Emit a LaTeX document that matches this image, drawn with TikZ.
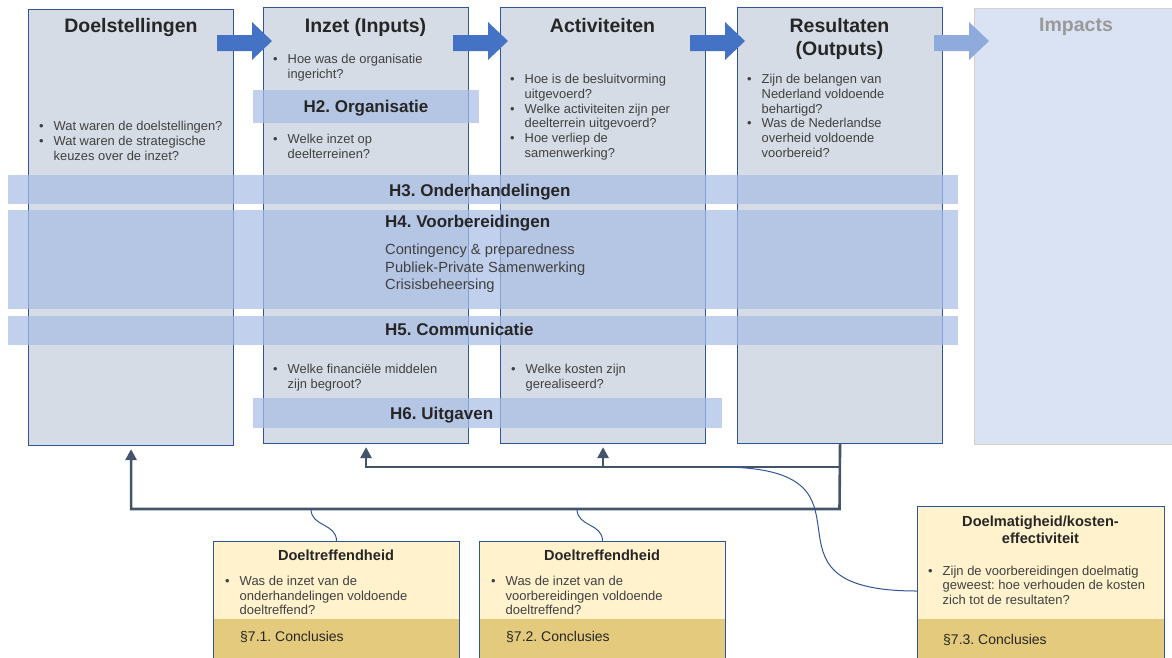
\documentclass[tikz,border=0pt]{standalone}
\usepackage{fontspec}
\setmainfont{Liberation Sans}
\usetikzlibrary{arrows.meta}
\frenchspacing
\definecolor{colfill}{HTML}{D6DCE5}
\definecolor{colline}{HTML}{2F5597}
\definecolor{bandfill}{HTML}{A9BEE6}
\definecolor{flowblue}{HTML}{4472C4}
\definecolor{flowlight}{HTML}{8FAADC}
\definecolor{impactfill}{HTML}{DAE3F3}
\definecolor{impactline}{HTML}{D5CFC8}
\definecolor{connline}{HTML}{44546A}
\definecolor{noteyellow}{HTML}{FFF2CC}
\definecolor{notegold}{HTML}{E4CA7C}
\definecolor{textdark}{HTML}{262626}
\definecolor{textgrey}{HTML}{404040}
\newcommand{\bul}{\makebox[14.5pt][l]{\textbullet}}
\newcommand{\bsp}{\hspace*{14.5pt}}

\begin{document}
\begin{tikzpicture}[x=1pt,y=-1pt,
    col/.style={draw=colline,fill=colfill,line width=1.1pt,anchor=north west,inner sep=0pt,
      minimum width=205pt,minimum height=436pt},
    band/.style={fill=bandfill,fill opacity=0.72,anchor=north west,inner sep=0pt},
    coltitle/.style={font=\fontsize{19.5}{23}\selectfont\bfseries,text=textdark,anchor=north,align=center,inner sep=0pt},
    bandtitle/.style={font=\fontsize{17}{20}\selectfont\bfseries,text=textdark,anchor=base west,inner sep=0pt},
    qlist/.style={font=\fontsize{12.9}{14.8}\selectfont,text=textgrey,anchor=north west,align=left,inner sep=0pt},
    note/.style={draw=colline,fill=noteyellow,line width=1pt,anchor=north west,inner sep=0pt,minimum width=246pt,minimum height=130pt},
    notebar/.style={fill=notegold,anchor=north,inner sep=0pt,minimum width=245pt,minimum height=50pt},
    notetitle/.style={font=\fontsize{14.6}{16.3}\selectfont\bfseries,text=textdark,anchor=north,align=center,inner sep=0pt},
    notelist/.style={font=\fontsize{13}{14.7}\selectfont,text=textgrey,anchor=north west,align=left,inner sep=0pt},
    concl/.style={font=\fontsize{14}{16}\selectfont,text=textdark,anchor=base west,inner sep=0pt},
    conn/.style={draw=connline,line width=2.6pt,shorten >=3pt,-{Triangle[width=11pt,length=11pt]}},
    link/.style={draw=colline,line width=1pt}]
  \useasboundingbox (0,0) rectangle (1172,657);
  \clip (0,0) rectangle (1172,657);

  % columns of the chain
  \node[col] (doel) at (28,9) {};
  \node[col] (inzet) at (263,7) {};
  \node[col] (activ) at (500,7) {};
  \node[col] (result) at (737,7) {};
  \node[col,draw=impactline,fill=impactfill,minimum width=205pt] (impact) at (974,8) {};

  \foreach \x/\c in {217/flowblue,453/flowblue,690/flowblue,934/flowlight}
    \fill[\c] (\x,35) -- (\x+35,35) -- (\x+35,22) -- (\x+55,41) -- (\x+35,60) -- (\x+35,51) -- (\x,51) -- cycle;

  \node[coltitle] (doelT) at (131,18) {Doelstellingen};
  \node[coltitle] (inzetT) at (365.5,18) {Inzet (Inputs)};
  \node[coltitle] (activT) at (602.5,18) {Activiteiten};
  \node[coltitle] (resultT) at (839.5,18) {Resultaten\\(Outputs)};
  \node[coltitle,text=black!40] (impactT) at (1076,18) {Impacts};

  \node[qlist] (doelQ) at (39,121.3) {\bul Wat waren de doelstellingen?\\\bul Wat waren de strategische\\\bsp keuzes over de inzet?};
  \node[qlist] (inzetQa) at (273,53.8) {\bul Hoe was de organisatie\\\bsp ingericht?};
  \node[qlist] (inzetQb) at (273,133.8) {\bul Welke inzet op\\\bsp deelterreinen?};
  \node[qlist] (inzetQc) at (273,364) {\bul Welke financi\"ele middelen\\\bsp zijn begroot?};
  \node[qlist] (activQa) at (510,74) {\bul Hoe is de besluitvorming\\\bsp uitgevoerd?\\\bul Welke activiteiten zijn per\\\bsp deelterrein uitgevoerd?\\\bul Hoe verliep de\\\bsp samenwerking?};
  \node[qlist] (activQb) at (511,364) {\bul Welke kosten zijn\\\bsp gerealiseerd?};
  \node[qlist] (resultQ) at (747,74) {\bul Zijn de belangen van\\\bsp Nederland voldoende\\\bsp behartigd?\\\bul Was de Nederlandse\\\bsp overheid voldoende\\\bsp voorbereid?};

  % chapters laid over the chain
  \node[band,minimum width=226pt,minimum height=33pt] (h2) at (253,90) {};
  \node[band,minimum width=950pt,minimum height=29pt] (h3) at (8,175) {};
  \node[band,minimum width=950pt,minimum height=99pt] (h4) at (8,210) {};
  \node[band,minimum width=950pt,minimum height=29pt] (h5) at (8,316) {};
  \node[band,minimum width=469pt,minimum height=30pt] (h6) at (253,398) {};

  \node[bandtitle,anchor=base] (h2T) at (366,112.5) {H2. Organisatie};
  \node[bandtitle] (h3T) at (389,196) {H3. Onderhandelingen};
  \node[bandtitle] (h4T) at (385,227.5) {H4. Voorbereidingen};
  \node[qlist,font=\fontsize{14.7}{17.3}\selectfont] (h4Q) at (385,244) {Contingency \& preparedness\\Publiek-Private Samenwerking\\Crisisbeheersing};
  \node[bandtitle] (h5T) at (385,335) {H5. Communicatie};
  \node[bandtitle] (h6T) at (390,419.5) {H6. Uitgaven};

  % feedback from the results
  \coordinate (up) at (839.5,467);
  \coordinate (down) at (839.5,509);
  \draw[conn] (result.south) -- (down) -| (doel.south);
  \draw[conn] (up) -| (inzet.south);
  \draw[conn] (activ.south |- up) -- (activ.south);

  % conclusions
  \node[note] (b1) at (213,541) {};
  \node[notebar] (b1bar) at ([yshift=-78pt]b1.north) {};
  \node[notetitle] (b1T) at (336,549.5) {Doeltreffendheid};
  \node[notelist] (b1Q) at (225,575.7) {\bul Was de inzet van de\\\bsp onderhandelingen voldoende\\\bsp doeltreffend?};
  \node[concl] (b1C) at (240,641.7) {\S7.1. Conclusies};

  \node[note] (b2) at (479,541) {};
  \node[notebar] (b2bar) at ([yshift=-78pt]b2.north) {};
  \node[notetitle] (b2T) at (602,549.5) {Doeltreffendheid};
  \node[notelist] (b2Q) at (491,575.7) {\bul Was de inzet van de\\\bsp voorbereidingen voldoende\\\bsp doeltreffend?};
  \node[concl] (b2C) at (506,641.7) {\S7.2. Conclusies};

  \node[note,minimum width=247pt,minimum height=170pt] (b3) at (917,506) {};
  \node[notebar,minimum width=246pt] (b3bar) at ([yshift=-113pt]b3.north) {};
  \node[notetitle] (b3T) at (1040.5,516) {Doelmatigheid/kosten-\\effectiviteit};
  \node[notelist] (b3Q) at (928,565.6) {\bul Zijn de voorbereidingen doelmatig\\\bsp geweest: hoe verhouden de kosten\\\bsp zich tot de resultaten?};
  \node[concl] (b3C) at (943,644) {\S7.3. Conclusies};

  \coordinate (j1) at (311,509);
  \coordinate (j2) at (577,509);
  \coordinate (j3) at (720,467);
  \draw[link] (b1.north) .. controls +(0,-18) and +(0,18) .. (j1);
  \draw[link] (b2.north) .. controls +(0,-18) and +(0,18) .. (j2);
  \draw[link] (j3) .. controls +(180,0) and +(-180,0) .. ([yshift=-85pt]b3.north west);
\end{tikzpicture}
\end{document}
